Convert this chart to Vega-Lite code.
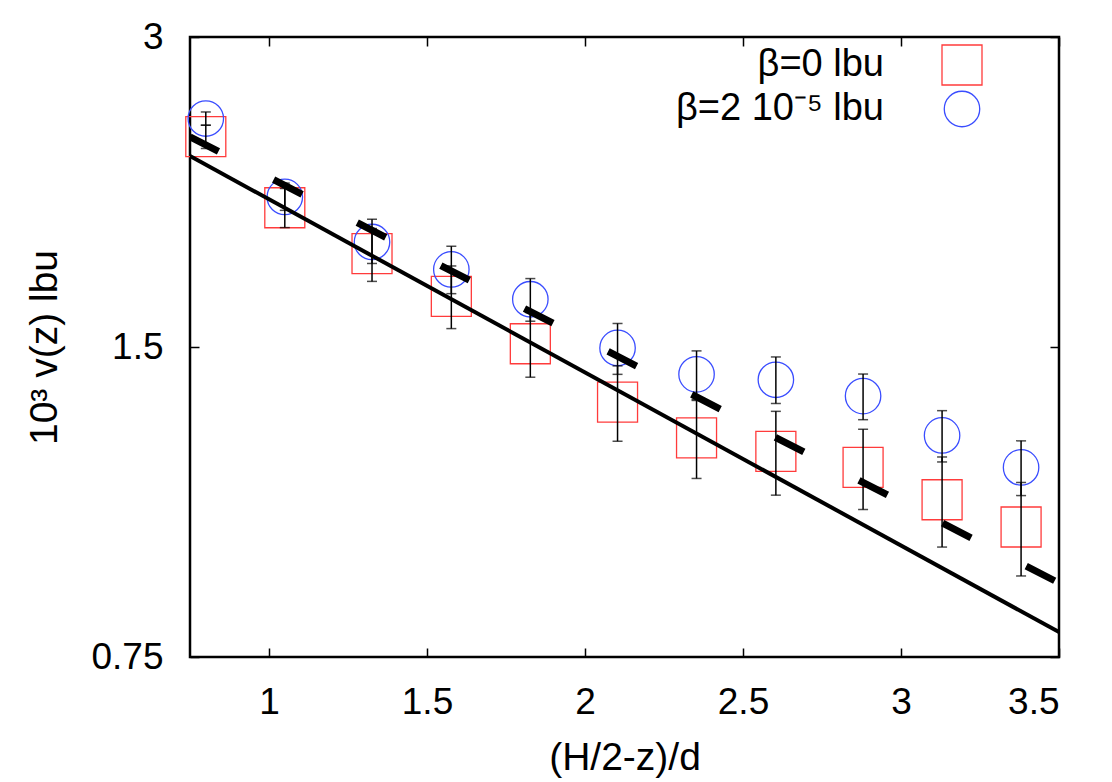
{
  "$schema": "https://vega.github.io/schema/vega-lite/v6.json",
  "autosize": {"type": "none"},
  "padding": {"left": 190, "top": 37, "right": 53, "bottom": 125},
  "width": 869,
  "height": 620,
  "background": "white",
  "config": {
    "font": "Liberation Sans",
    "view": {"stroke": "black", "strokeWidth": 2.5},
    "axis": {
      "domain": false,
      "grid": false,
      "tickColor": "black",
      "tickWidth": 1.5,
      "labelFontSize": 37,
      "labelColor": "black",
      "titleFontSize": 39,
      "titleFontWeight": "normal",
      "titleColor": "black"
    }
  },
  "datasets": {
    "pts": [
      {"x": 0.80, "beta": "β=0 lbu", "v": 2.401, "hi": 2.463, "lo": 2.338},
      {"x": 1.05, "beta": "β=0 lbu", "v": 2.048, "hi": 2.138, "lo": 1.959},
      {"x": 1.326, "beta": "β=0 lbu", "v": 1.848, "hi": 1.955, "lo": 1.737},
      {"x": 1.577, "beta": "β=0 lbu", "v": 1.680, "hi": 1.798, "lo": 1.563},
      {"x": 1.827, "beta": "β=0 lbu", "v": 1.511, "hi": 1.620, "lo": 1.402},
      {"x": 2.103, "beta": "β=0 lbu", "v": 1.326, "hi": 1.438, "lo": 1.215},
      {"x": 2.353, "beta": "β=0 lbu", "v": 1.224, "hi": 1.331, "lo": 1.118},
      {"x": 2.604, "beta": "β=0 lbu", "v": 1.188, "hi": 1.299, "lo": 1.077},
      {"x": 2.880, "beta": "β=0 lbu", "v": 1.146, "hi": 1.248, "lo": 1.043},
      {"x": 3.130, "beta": "β=0 lbu", "v": 1.066, "hi": 1.173, "lo": 0.959},
      {"x": 3.380, "beta": "β=0 lbu", "v": 1.003, "hi": 1.108, "lo": 0.899},
      {"x": 0.80, "beta": "β=2 10⁻⁵ lbu", "v": 2.500, "hi": 2.537, "lo": 2.463},
      {"x": 1.05, "beta": "β=2 10⁻⁵ lbu", "v": 2.098, "hi": 2.164, "lo": 2.036},
      {"x": 1.326, "beta": "β=2 10⁻⁵ lbu", "v": 1.897, "hi": 1.996, "lo": 1.808},
      {"x": 1.577, "beta": "β=2 10⁻⁵ lbu", "v": 1.784, "hi": 1.879, "lo": 1.690},
      {"x": 1.827, "beta": "β=2 10⁻⁵ lbu", "v": 1.669, "hi": 1.748, "lo": 1.589},
      {"x": 2.103, "beta": "β=2 10⁻⁵ lbu", "v": 1.497, "hi": 1.581, "lo": 1.411},
      {"x": 2.353, "beta": "β=2 10⁻⁵ lbu", "v": 1.411, "hi": 1.487, "lo": 1.334},
      {"x": 2.604, "beta": "β=2 10⁻⁵ lbu", "v": 1.394, "hi": 1.467, "lo": 1.322},
      {"x": 2.880, "beta": "β=2 10⁻⁵ lbu", "v": 1.344, "hi": 1.412, "lo": 1.275},
      {"x": 3.130, "beta": "β=2 10⁻⁵ lbu", "v": 1.231, "hi": 1.301, "lo": 1.160},
      {"x": 3.380, "beta": "β=2 10⁻⁵ lbu", "v": 1.146, "hi": 1.216, "lo": 1.076}
    ],
    "fits": [
      {"x": 0.75, "v": 2.299, "fit": "solid"},
      {"x": 3.5, "v": 0.793, "fit": "solid"},
      {"x": 0.75, "v": 2.400, "fit": "dashed"},
      {"x": 3.5, "v": 0.885, "fit": "dashed"}
    ]
  },
  "resolve": {"axis": {"x": "independent", "y": "independent"}},
  "layer": [
    {
      "data": {"name": "pts"},
      "mark": {"type": "point", "filled": false, "strokeWidth": 1.3, "opacity": 1},
      "encoding": {
        "x": {"field": "x", "type": "quantitative",
              "scale": {"domain": [0.75, 3.5], "nice": false, "zero": false},
              "axis": {"orient": "bottom", "values": [1, 1.5, 2, 2.5, 3, 3.5], "format": "~g",
                       "tickSize": -9, "labelPadding": 36, "title": "(H/2-z)/d", "titlePadding": 18}},
        "y": {"field": "v", "type": "quantitative",
              "scale": {"type": "log", "base": 2, "domain": [0.75, 3], "nice": false},
              "axis": {"orient": "left", "values": [0.75, 1.5, 3], "format": "~g",
                       "tickSize": -9, "labelPadding": 36, "title": "10³ v(z) lbu", "titlePadding": 26}},
        "color": {"field": "beta", "type": "nominal",
                  "scale": {"domain": ["β=0 lbu", "β=2 10⁻⁵ lbu"], "range": ["#ff3b3b", "#3a4dff"]},
                  "legend": {"orient": "none", "legendX": 751, "legendY": 7, "title": null,
                             "labelFontSize": 38, "labelAlign": "right", "labelOffset": -99,
                             "labelLimit": 500, "rowPadding": 0, "padding": 0, "labelColor": "black",
                             "symbolStrokeWidth": 1.3}},
        "shape": {"field": "beta", "type": "nominal",
                  "scale": {"domain": ["β=0 lbu", "β=2 10⁻⁵ lbu"], "range": ["square", "circle"]},
                  "legend": {"orient": "none", "legendX": 751, "legendY": 7, "title": null,
                             "labelFontSize": 38, "labelAlign": "right", "labelOffset": -99,
                             "labelLimit": 500, "rowPadding": 0, "padding": 0, "labelColor": "black",
                             "symbolStrokeWidth": 1.3}},
        "size": {"field": "beta", "type": "nominal",
                 "scale": {"domain": ["β=0 lbu", "β=2 10⁻⁵ lbu"], "range": [1600, 1257]},
                 "legend": {"orient": "none", "legendX": 751, "legendY": 7, "title": null,
                            "labelFontSize": 38, "labelAlign": "right", "labelOffset": -99,
                            "labelLimit": 500, "rowPadding": 0, "padding": 0, "labelColor": "black",
                            "symbolStrokeWidth": 1.3}}
      }
    },
    {
      "data": {"name": "pts"},
      "mark": {"type": "rule", "color": "black", "strokeWidth": 1.5},
      "encoding": {
        "x": {"field": "x", "type": "quantitative",
              "axis": {"orient": "top", "values": [1, 1.5, 2, 2.5, 3, 3.5], "labels": false,
                       "tickSize": -9, "title": null}},
        "y": {"field": "lo", "type": "quantitative",
              "axis": {"orient": "right", "values": [0.75, 1.5, 3], "labels": false,
                       "tickSize": -9, "title": null}},
        "y2": {"field": "hi"}
      }
    },
    {
      "data": {"name": "pts"},
      "mark": {"type": "tick", "orient": "horizontal", "color": "black", "size": 10, "thickness": 1.5},
      "encoding": {
        "x": {"field": "x", "type": "quantitative", "axis": null},
        "y": {"field": "lo", "type": "quantitative", "axis": null}
      }
    },
    {
      "data": {"name": "pts"},
      "mark": {"type": "tick", "orient": "horizontal", "color": "black", "size": 10, "thickness": 1.5},
      "encoding": {
        "x": {"field": "x", "type": "quantitative", "axis": null},
        "y": {"field": "hi", "type": "quantitative", "axis": null}
      }
    },
    {
      "data": {"name": "fits"},
      "transform": [{"filter": "datum.fit === 'solid'"}],
      "mark": {"type": "line", "color": "black", "strokeWidth": 4, "clip": true},
      "encoding": {
        "x": {"field": "x", "type": "quantitative", "axis": null},
        "y": {"field": "v", "type": "quantitative", "axis": null}
      }
    },
    {
      "data": {"name": "fits"},
      "transform": [{"filter": "datum.fit === 'dashed'"}],
      "mark": {"type": "line", "color": "black", "strokeWidth": 7, "strokeDash": [32, 62], "strokeCap": "butt", "clip": true},
      "encoding": {
        "x": {"field": "x", "type": "quantitative", "axis": null},
        "y": {"field": "v", "type": "quantitative", "axis": null}
      }
    }
  ]
}
